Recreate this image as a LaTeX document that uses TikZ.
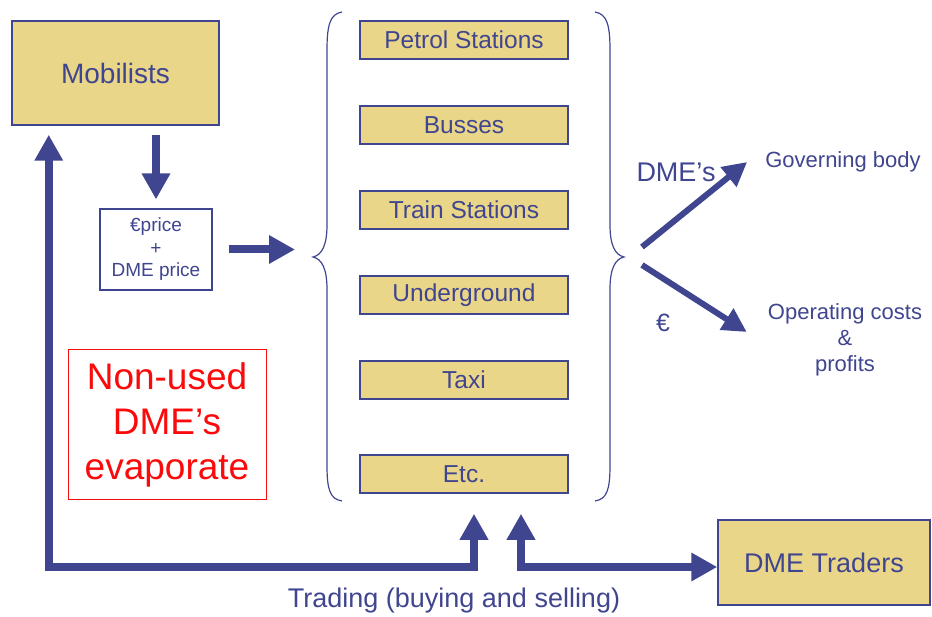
\documentclass[tikz,border=0pt]{standalone}
\usepackage{fontspec}
\setmainfont{Liberation Sans}
\usepackage{xcolor}
\usepackage{tikz}
\usetikzlibrary{arrows.meta,positioning,calc}

\definecolor{dmeblue}{RGB}{64,69,143}
\definecolor{dmesand}{RGB}{234,214,136}
\definecolor{dmered}{RGB}{250,10,10}
\newcommand{\pxfont}[2]{\fontsize{#1pt}{#2pt}\selectfont}

\begin{document}
\begin{tikzpicture}[
    x=1pt, y=-1pt,
    node distance=45.5pt,
    sandbox/.style={rectangle, draw=dmeblue, fill=dmesand, line width=1.5pt, inner sep=0pt, text=dmeblue, align=center},
    station/.style={sandbox, minimum width=208pt, minimum height=38pt, font=\pxfont{24.5}{28}},
    pricebox/.style={rectangle, draw=dmeblue, fill=white, line width=1.2pt, inner sep=0pt, text=dmeblue, align=center, minimum width=112pt, minimum height=81pt, font=\pxfont{19}{22.5}},
    warnbox/.style={rectangle, draw=dmered, line width=1pt, inner sep=0pt, text=dmered, align=center, minimum width=198pt, minimum height=149pt, font=\pxfont{37}{45}},
    txt/.style={inner sep=0pt, text=dmeblue, align=center},
    brace/.style={draw=dmeblue, line width=1.2pt},
    flow/.style={draw=dmeblue, line width=8pt, >={Triangle[width=27pt,length=26pt]}},
    thinflow/.style={draw=dmeblue, line width=6pt, -{Triangle[width=24pt,length=24pt]}}
]
    \useasboundingbox (0,0) rectangle (932,617);

    \node [sandbox, minimum width=207pt, minimum height=104pt, font=\pxfont{28}{30}] (mob) at (115.5,73) {Mobilists};
    \node [pricebox] (price) at (156,249.5) {€price\\+\\DME price};
    \node [warnbox] (unused) at (167,424.5) {Non-used\\DME’s\\evaporate};

    % the stations
    \node [station] (petrol) at (464,40) {Petrol Stations};
    \node [station, below=of petrol] (busses) {Busses};
    \node [station, below=of busses] (train) {Train Stations};
    \node [station, below=of train] (under) {Underground};
    \node [station, below=of under] (taxi) {Taxi};
    \node [station, below=54.5pt of taxi] (etc) {Etc.};

    \node [sandbox, minimum width=212pt, minimum height=85pt, font=\pxfont{27}{30}] (traders) at (824,562.5) {DME Traders};
    \node [txt, font=\pxfont{22}{26}] (gov) at (843,162) {Governing body};
    \node [txt, font=\pxfont{22}{26}] (ops) at (845,340) {Operating costs\\\&\\profits};
    \node [txt, font=\pxfont{27}{30}] (dmes) at (676,172) {DME’s};
    \node [txt, font=\pxfont{25}{30}] (euro) at (663,323) {€};
    \node [txt, font=\pxfont{27}{30}] (trading) at (454,601) {Trading (buying and selling)};

    % braces round the stations
    \coordinate (ltip) at (313,257);
    \coordinate (rtip) at (624,257);
    \draw [brace] (342,12) .. controls (330,14) and (327,25) .. (327,50) -- (327,225)
        .. controls (327,245) and (322,255) .. (ltip)
        .. controls (322,259) and (327,269) .. (327,289) -- (327,465)
        .. controls (327,490) and (330,499) .. (342,501);
    \draw [brace] (595,12) .. controls (607,14) and (610,25) .. (610,50) -- (610,225)
        .. controls (610,245) and (615,255) .. (rtip)
        .. controls (615,259) and (610,269) .. (610,289) -- (610,465)
        .. controls (610,490) and (607,499) .. (595,501);

    \coordinate (upleft) at ([xshift=37.5pt,yshift=-9pt]mob.south west);
    \coordinate (buyin) at ([xshift=10pt,yshift=-20pt]etc.south);
    \coordinate (sellout) at ([xshift=57pt,yshift=-20pt]etc.south);
    \coordinate (base) at (474,567);

    \draw [flow, ->] ([yshift=-9pt]mob.south -| price.north) -- ([yshift=9pt]price.north);
    \draw [flow, ->] ([xshift=16pt]price.east) -- ([xshift=-18pt]price.east -| ltip);
    \draw [flow, <->] (buyin) |- (upleft |- base) -- (upleft);
    \draw [flow, <->] (sellout) |- (traders.west |- base);

    \draw [thinflow] ([xshift=18pt,yshift=10pt]rtip) -- ([xshift=-18pt]gov.west);
    \draw [thinflow] ([xshift=18pt,yshift=-8pt]rtip) -- ([xshift=-21pt,yshift=8pt]ops.west);
\end{tikzpicture}
\end{document}
